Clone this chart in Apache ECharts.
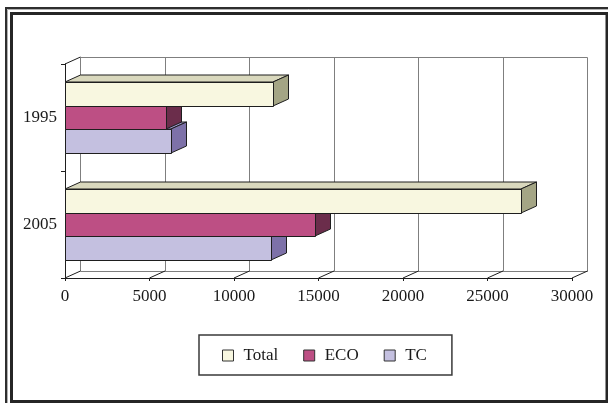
<!DOCTYPE html>
<html>
<head>
<meta charset="utf-8">
<script src="https://cdn.jsdelivr.net/npm/echarts@6/dist/echarts.min.js"></script>
<style>
  html, body { margin: 0; padding: 0; background: #ffffff; }
  #chart { width: 608px; height: 403px; }
</style>
</head>
<body>
<div id="chart"></div>
<script>
// Categories (top to bottom) and series values
var years = ['1995', '2005'];
var totalValues = [12300, 27000];
var ecoValues = [6000, 14800];
var tcValues = [6300, 12200];
var xTicks = [0, 5000, 10000, 15000, 20000, 25000, 30000];
var seriesNames = ['Total', 'ECO', 'TC'];

// Pseudo-3D depth offset of the back plane
var DX = 15.5, DY = -7;
var FONT = 'Liberation Serif, Times New Roman, serif';

var palette = {
  Total: { front: '#f8f7e0', top: '#d9d8bd', side: '#a4a585' },
  ECO:   { front: '#bd4f84', top: '#94406a', side: '#6b2d4b' },
  TC:    { front: '#c4c0e0', top: '#9b93c7', side: '#7d71a8' }
};

function crisp(v) { return Math.round(v - 0.5) + 0.5; }

// slot index: 0 = upper bar in the group, 2 = lower bar
function barRenderer(name, slot) {
  var c = palette[name];
  return function (params, api) {
    var cat = api.value(1);
    var val = api.value(0);
    var center = api.coord([0, cat]);
    var end = api.coord([val, cat]);
    var band = api.size([0, 1])[1];
    var h = band * 0.22;
    var yTop = Math.round(center[1] - 1.5 * h + slot * h);
    var yBot = Math.round(center[1] - 1.5 * h + (slot + 1) * h);
    var x0 = Math.round(center[0]);
    var x1 = Math.round(end[0]);
    var stroke = { stroke: '#1e1e1e', lineWidth: 1, lineJoin: 'miter' };
    return {
      type: 'group',
      children: [
        { type: 'polygon',
          shape: { points: [[x0, yTop], [x1, yTop], [x1 + DX, yTop + DY], [x0 + DX, yTop + DY]] },
          style: Object.assign({ fill: c.top }, stroke) },
        { type: 'polygon',
          shape: { points: [[x1, yTop], [x1 + DX, yTop + DY], [x1 + DX, yBot + DY], [x1, yBot]] },
          style: Object.assign({ fill: c.side }, stroke) },
        { type: 'rect',
          shape: { x: x0 + 0.5, y: yTop + 0.5, width: x1 - x0, height: yBot - yTop },
          style: Object.assign({ fill: c.front }, stroke) }
      ]
    };
  };
}

// Back wall gridlines, floor edges and left-wall outline
function wallRenderer(params, api) {
  var cs = params.coordSys;
  var top = cs.y, bottom = cs.y + cs.height;
  var x = api.coord([api.value(0), 0])[0];
  var xb = crisp(x + DX);
  var gray = { stroke: '#7f7f7f', lineWidth: 1 };
  var dark = { stroke: '#1e1e1e', lineWidth: 1 };
  var children = [
    { type: 'line', shape: { x1: xb, y1: crisp(top + DY), x2: xb, y2: crisp(bottom + DY) }, style: gray },
    { type: 'line', shape: { x1: x, y1: bottom, x2: x + DX, y2: bottom + DY }, style: dark }
  ];
  if (params.dataIndex === 0) {
    var xl = crisp(cs.x + DX), xr = crisp(cs.x + cs.width + DX);
    children.push(
      { type: 'line', shape: { x1: xl, y1: crisp(top + DY), x2: xr, y2: crisp(top + DY) }, style: gray },
      { type: 'line', shape: { x1: xl, y1: crisp(bottom + DY), x2: xr, y2: crisp(bottom + DY) }, style: gray },
      { type: 'line', shape: { x1: cs.x, y1: top, x2: cs.x + DX, y2: top + DY }, style: dark }
    );
  }
  return { type: 'group', children: children };
}

function pairs(values) {
  return values.map(function (v, i) { return [v, i]; });
}

var chart = echarts.init(document.getElementById('chart'), null, { renderer: 'canvas' });

chart.setOption({
  animation: false,
  backgroundColor: '#ffffff',
  textStyle: { fontFamily: FONT },
  grid: { left: 65, right: 36, top: 64, bottom: 125, containLabel: false },
  xAxis: {
    type: 'value',
    min: 0, max: 30000, interval: 5000,
    axisLine: { show: true, lineStyle: { color: '#1e1e1e', width: 1 } },
    axisTick: { show: true, length: 3, lineStyle: { color: '#1e1e1e' } },
    splitLine: { show: false },
    axisLabel: {
      color: '#1a1a1a', fontFamily: FONT, fontSize: 17, margin: 10,
      formatter: function (v) { return String(v); }
    }
  },
  yAxis: {
    type: 'category',
    data: years,
    inverse: true,
    axisLine: { show: true, lineStyle: { color: '#1e1e1e', width: 1 } },
    axisTick: { show: true, length: 4, lineStyle: { color: '#1e1e1e' } },
    axisLabel: { color: '#1a1a1a', fontFamily: FONT, fontSize: 17, margin: 8 }
  },
  legend: {
    data: seriesNames,
    left: 199, top: 335,
    orient: 'horizontal',
    icon: 'rect',
    itemWidth: 11, itemHeight: 11,
    itemGap: 25,
    padding: [12, 25, 11, 23],
    borderColor: '#3a3a3a', borderWidth: 1.5,
    backgroundColor: '#ffffff',
    itemStyle: { borderColor: '#333333', borderWidth: 1 },
    textStyle: { color: '#1a1a1a', fontFamily: FONT, fontSize: 17, padding: [0, 0, 0, 5] },
    selectedMode: false
  },
  graphic: [
    { type: 'rect', shape: { x: 6, y: 8, width: 700, height: 500 },
      style: { fill: null, stroke: '#2e2e2e', lineWidth: 2 }, z: 100 },
    { type: 'rect', shape: { x: 7.5, y: 9.5, width: 700, height: 500 },
      style: { fill: null, stroke: '#b0b0b0', lineWidth: 1 }, z: 100 },
    { type: 'rect', shape: { x: 11.5, y: 13.5, width: 595.5, height: 388 },
      style: { fill: null, stroke: '#262626', lineWidth: 3 }, z: 100 }
  ],
  series: [
    { name: 'walls', type: 'custom', z: 1, silent: true,
      data: xTicks.map(function (t) { return [t]; }),
      encode: { x: 0 },
      renderItem: wallRenderer },
    { name: 'Total', type: 'custom', z: 5,
      itemStyle: { color: palette.Total.front, borderColor: '#333', borderWidth: 1 },
      data: pairs(totalValues), encode: { x: 0, y: 1 },
      renderItem: barRenderer('Total', 0) },
    { name: 'ECO', type: 'custom', z: 4,
      itemStyle: { color: palette.ECO.front, borderColor: '#333', borderWidth: 1 },
      data: pairs(ecoValues), encode: { x: 0, y: 1 },
      renderItem: barRenderer('ECO', 1) },
    { name: 'TC', type: 'custom', z: 3,
      itemStyle: { color: palette.TC.front, borderColor: '#333', borderWidth: 1 },
      data: pairs(tcValues), encode: { x: 0, y: 1 },
      renderItem: barRenderer('TC', 2) }
  ]
});
</script>
</body>
</html>
